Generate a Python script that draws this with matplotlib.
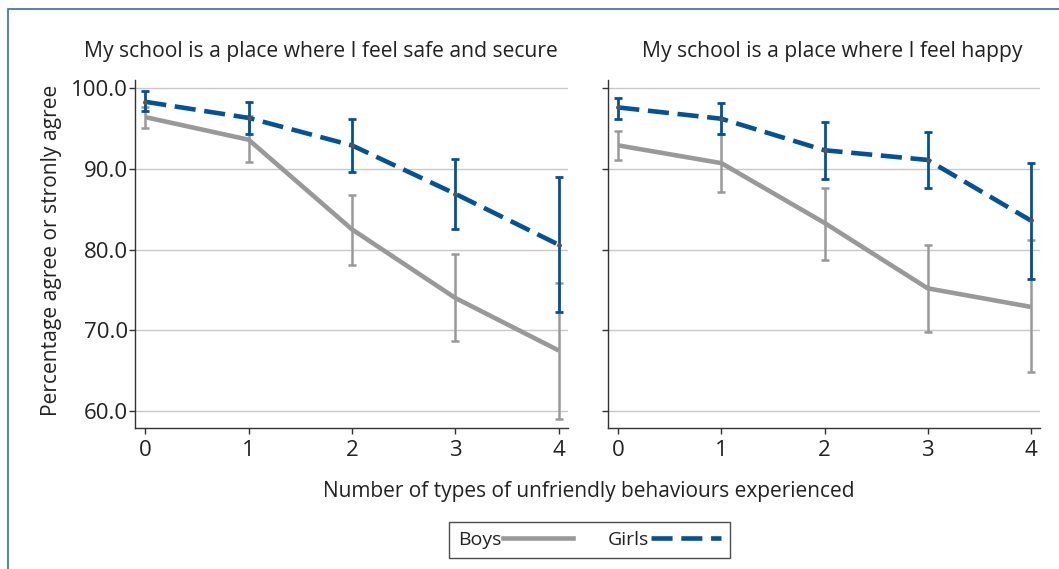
import matplotlib
matplotlib.use("Agg")
import matplotlib.pyplot as plt
from matplotlib.lines import Line2D
from matplotlib.patches import Rectangle

# Number of types of unfriendly behaviours experienced
x_vals = [0, 1, 2, 3, 4]

# Panel 1: "safe and secure"
safe_boys = [96.4, 93.6, 82.5, 74.0, 67.5]
safe_boys_lo = [95.0, 90.8, 78.1, 68.7, 59.0]
safe_boys_hi = [97.7, 96.6, 86.7, 79.4, 75.9]
safe_girls = [98.3, 96.3, 92.9, 86.9, 80.6]
safe_girls_lo = [97.1, 94.3, 89.6, 82.6, 72.3]
safe_girls_hi = [99.6, 98.3, 96.2, 91.2, 89.0]

# Panel 2: "happy"
happy_boys = [92.9, 90.7, 83.3, 75.2, 72.9]
happy_boys_lo = [91.1, 87.1, 78.7, 69.8, 64.8]
happy_boys_hi = [94.7, 94.3, 87.6, 80.6, 81.2]
happy_girls = [97.6, 96.2, 92.3, 91.1, 83.6]
happy_girls_lo = [96.2, 94.3, 88.7, 87.6, 76.4]
happy_girls_hi = [98.8, 98.1, 95.8, 94.6, 90.7]

titles = ["My school is a place where I feel safe and secure",
          "My school is a place where I feel happy"]
y_ticks = [60.0, 70.0, 80.0, 90.0, 100.0]
y_tick_labels = ["60.0", "70.0", "80.0", "90.0", "100.0"]

BOYS = "#999999"
GIRLS = "#00529b"
FONT = ["Open Sans", "DejaVu Sans"]
TXT = "#222222"
LW = 3.3
DASH = (4.6, 1.9)

plt.rcParams["font.family"] = FONT

fig = plt.figure(figsize=(10.59, 5.69), dpi=100)
W, H = 1059, 569


def px_axes(x0, y0, x1, y1):
    return fig.add_axes([x0 / W, 1 - y1 / H, (x1 - x0) / W, (y1 - y0) / H])


ax1 = px_axes(135, 80, 568, 428)
ax2 = px_axes(608, 80, 1040, 428)

panels = [
    (ax1, safe_boys, safe_boys_lo, safe_boys_hi, safe_girls, safe_girls_lo, safe_girls_hi),
    (ax2, happy_boys, happy_boys_lo, happy_boys_hi, happy_girls, happy_girls_lo, happy_girls_hi),
]

for i, (ax, b, blo, bhi, g, glo, ghi) in enumerate(panels):
    ax.set_xlim(-0.1, 4.09)
    ax.set_ylim(57.9, 101.0)
    ax.set_yticks(y_ticks)
    ax.grid(axis="y", color="#c8c8c8", linewidth=1.0, zorder=0)
    ax.set_axisbelow(True)
    for s in ["top", "right"]:
        ax.spines[s].set_visible(False)
    for s in ["left", "bottom"]:
        ax.spines[s].set_color("#333333")
        ax.spines[s].set_linewidth(1.0)
    ax.set_xticks(x_vals)
    ax.set_xticklabels([str(v) for v in x_vals])
    ax.tick_params(axis="both", direction="out", length=4, width=1,
                   color="#333333", labelsize=16, labelcolor=TXT)
    ax.tick_params(axis="y", pad=1)
    ax.tick_params(axis="x", pad=5)
    if i == 0:
        ax.set_yticklabels(y_tick_labels)
    else:
        ax.set_yticklabels([])

    berr = [[m - lo for m, lo in zip(b, blo)], [hi - m for m, hi in zip(b, bhi)]]
    gerr = [[m - lo for m, lo in zip(g, glo)], [hi - m for m, hi in zip(g, ghi)]]

    ax.errorbar(x_vals, b, yerr=berr, fmt="none", ecolor=BOYS, elinewidth=1.8,
                capsize=3.2, capthick=1.8, zorder=2)
    ax.plot(x_vals, b, color=BOYS, linewidth=LW, solid_capstyle="butt", zorder=3)
    ax.errorbar(x_vals, g, yerr=gerr, fmt="none", ecolor=GIRLS, elinewidth=2.0,
                capsize=3.2, capthick=2.0, zorder=4)
    ax.plot(x_vals, g, color=GIRLS, linewidth=LW, dashes=DASH,
            dash_capstyle="butt", zorder=5)
    ax.plot(x_vals, g, linestyle="none", marker="o", markersize=2.5,
            color="#555555", zorder=6)

fig.text(321 / W, 1 - 52 / H, titles[0], ha="center", va="center",
         fontsize=15.2, color=TXT)
fig.text(832 / W, 1 - 52 / H, titles[1], ha="center", va="center",
         fontsize=15.2, color=TXT)
fig.text(52 / W, 1 - 250 / H, "Percentage agree or stronly agree", rotation=90,
         ha="center", va="center", fontsize=15.1, color=TXT)
fig.text(589 / W, 1 - 492 / H, "Number of types of unfriendly behaviours experienced",
         ha="center", va="center", fontsize=15.0, color=TXT)

handles = [Line2D([], [], color=BOYS, linewidth=LW),
           Line2D([], [], color=GIRLS, linewidth=LW, dashes=DASH)]
leg = fig.legend(handles, ["Boys", "Girls"], loc="center",
                 bbox_to_anchor=(589.5 / W, 1 - 540 / H), ncol=2,
                 markerfirst=False, frameon=True, fancybox=False,
                 fontsize=14, handlelength=3.6, handletextpad=0.1,
                 columnspacing=1.8, borderpad=0.45, labelcolor=TXT)
leg.get_frame().set_edgecolor("#222222")
leg.get_frame().set_linewidth(1.0)

# outer frame
fig.patches.append(Rectangle((8 / W, -0.1), 1.2, 1 - 9 / H + 0.1,
                             transform=fig.transFigure, fill=False,
                             edgecolor="#2f6db5", linewidth=1.2))

fig.savefig("out.png", dpi=100)
